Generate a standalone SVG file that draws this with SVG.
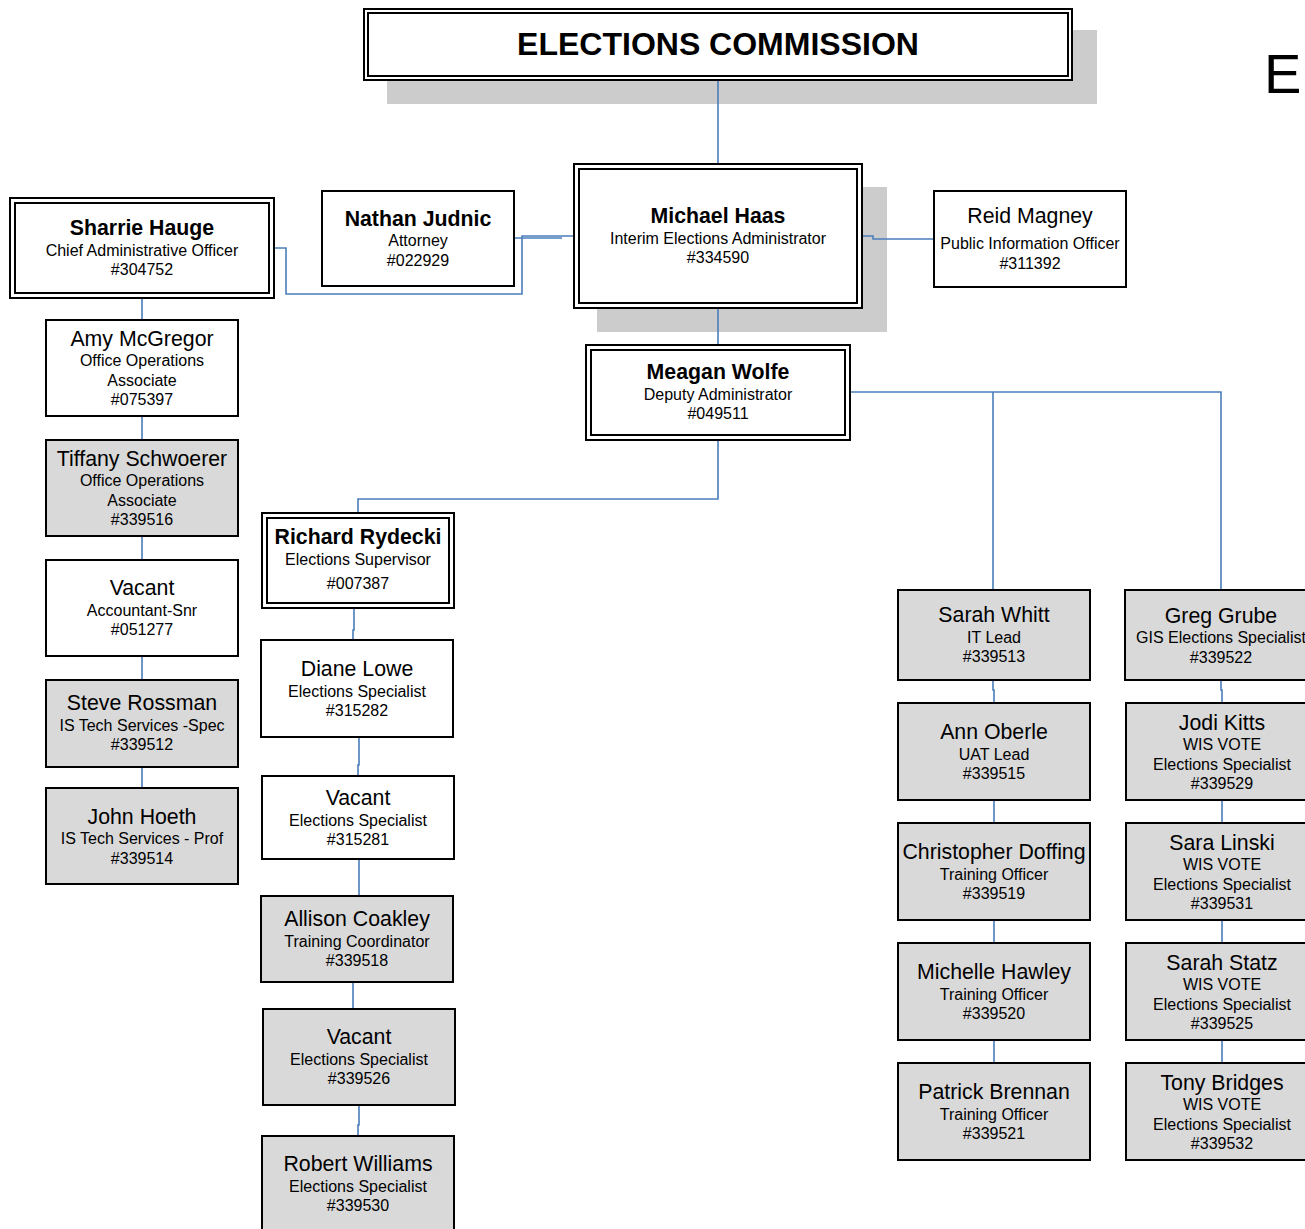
<svg xmlns="http://www.w3.org/2000/svg" width="1305" height="1229" viewBox="0 0 1305 1229">
<style>
text{font-family:"Liberation Sans",Arial,sans-serif;text-anchor:middle;fill:#000}
.n{font-size:21.3px}
.b{font-size:21.3px;font-weight:bold}
.s{font-size:16px}
.box{fill:#fff;stroke:#000;stroke-width:2}
.g{fill:#d9d9d9;stroke:#000;stroke-width:2}
.sh{fill:#cccccc}
.c{fill:none;stroke:#4a7ebb;stroke-width:1.6}
</style>
<rect width="1305" height="1229" fill="#fff"/>
<rect class="sh" x="387" y="30" width="710" height="74"/>
<rect class="sh" x="597" y="187" width="290" height="145"/>
<g id="connectors">
<path class="c" d="M718 80V164"/>
<path class="c" d="M862 236H873V239H933"/>
<path class="c" d="M573 236H522V294H286V248H273"/>
<path class="c" d="M514 238H562"/>
<path class="c" d="M142 298V320M142 416V440M142 536V560M142 656V680M142 767V788"/>
<path class="c" d="M718 308V344"/>
<path class="c" d="M850 392H1221V590M993 392V590"/>
<path class="c" d="M718 440V499H358V513"/>
<path class="c" d="M354 608V630H353V640M359 737V765H358V776M359 859V896M353 982V1009M359 1105V1125H358V1136"/>
<path class="c" d="M993 680V690H994V703M994 800V823M994 920V943M994 1040V1063"/>
<path class="c" d="M1221 680V690H1222V703M1222 800V823M1222 920V943M1222 1040V1063"/>
</g>
<g id="commission">
<rect class="box" x="364" y="9" width="708" height="71"/>
<rect class="box" x="368" y="13" width="700" height="63"/>
<text x="718" y="55" style="font-size:32px;font-weight:bold">ELECTIONS COMMISSION</text>
</g>
<g id="haas">
<rect class="box" x="574" y="164" width="288" height="144"/>
<rect class="box" x="579" y="169" width="278" height="134"/>
<text class="b" x="718" y="223">Michael Haas</text>
<text class="s" x="718" y="244">Interim Elections Administrator</text>
<text class="s" x="718" y="263">#334590</text>
</g>
<g id="magney">
<rect class="box" x="934" y="191" width="192" height="96"/>
<text class="n" x="1030" y="223">Reid Magney</text>
<text class="s" x="1030" y="249">Public Information Officer</text>
<text class="s" x="1030" y="269">#311392</text>
</g>
<g id="judnic">
<rect class="box" x="322" y="191" width="192" height="95"/>
<text class="b" x="418" y="226">Nathan Judnic</text>
<text class="s" x="418" y="246">Attorney</text>
<text class="s" x="418" y="266">#022929</text>
</g>
<g id="hauge">
<rect class="box" x="10" y="198" width="264" height="100"/>
<rect class="box" x="15" y="203" width="254" height="90"/>
<text class="b" x="142" y="235">Sharrie Hauge</text>
<text class="s" x="142" y="256">Chief Administrative Officer</text>
<text class="s" x="142" y="275">#304752</text>
</g>
<g id="mcgregor">
<rect class="box" x="46" y="320" width="192" height="96"/>
<text class="n" x="142" y="346">Amy McGregor</text>
<text class="s" x="142" y="366">Office Operations</text>
<text class="s" x="142" y="386">Associate</text>
<text class="s" x="142" y="405">#075397</text>
</g>
<g id="schwoerer">
<rect class="g" x="46" y="440" width="192" height="96"/>
<text class="n" x="142" y="466">Tiffany Schwoerer</text>
<text class="s" x="142" y="486">Office Operations</text>
<text class="s" x="142" y="506">Associate</text>
<text class="s" x="142" y="525">#339516</text>
</g>
<g id="vacant-acct">
<rect class="box" x="46" y="560" width="192" height="96"/>
<text class="n" x="142" y="595">Vacant</text>
<text class="s" x="142" y="616">Accountant-Snr</text>
<text class="s" x="142" y="635">#051277</text>
</g>
<g id="rossman">
<rect class="g" x="46" y="680" width="192" height="87"/>
<text class="n" x="142" y="710">Steve Rossman</text>
<text class="s" x="142" y="731">IS Tech Services -Spec</text>
<text class="s" x="142" y="750">#339512</text>
</g>
<g id="hoeth">
<rect class="g" x="46" y="788" width="192" height="96"/>
<text class="n" x="142" y="824">John Hoeth</text>
<text class="s" x="142" y="844">IS Tech Services - Prof</text>
<text class="s" x="142" y="864">#339514</text>
</g>
<g id="wolfe">
<rect class="box" x="586" y="345" width="264" height="95"/>
<rect class="box" x="591" y="350" width="254" height="85"/>
<text class="b" x="718" y="379">Meagan Wolfe</text>
<text class="s" x="718" y="400">Deputy Administrator</text>
<text class="s" x="718" y="419">#049511</text>
</g>
<g id="rydecki">
<rect class="box" x="262" y="513" width="192" height="95"/>
<rect class="box" x="267" y="518" width="182" height="85"/>
<text class="b" x="358" y="544">Richard Rydecki</text>
<text class="s" x="358" y="565">Elections Supervisor</text>
<text class="s" x="358" y="589">#007387</text>
</g>
<g id="lowe">
<rect class="box" x="261" y="640" width="192" height="97"/>
<text class="n" x="357" y="676">Diane Lowe</text>
<text class="s" x="357" y="697">Elections Specialist</text>
<text class="s" x="357" y="716">#315282</text>
</g>
<g id="vacant-315281">
<rect class="box" x="262" y="776" width="192" height="83"/>
<text class="n" x="358" y="805">Vacant</text>
<text class="s" x="358" y="826">Elections Specialist</text>
<text class="s" x="358" y="845">#315281</text>
</g>
<g id="coakley">
<rect class="g" x="261" y="896" width="192" height="86"/>
<text class="n" x="357" y="926">Allison Coakley</text>
<text class="s" x="357" y="947">Training Coordinator</text>
<text class="s" x="357" y="966">#339518</text>
</g>
<g id="vacant-339526">
<rect class="g" x="263" y="1009" width="192" height="96"/>
<text class="n" x="359" y="1044">Vacant</text>
<text class="s" x="359" y="1065">Elections Specialist</text>
<text class="s" x="359" y="1084">#339526</text>
</g>
<g id="williams">
<rect class="g" x="262" y="1136" width="192" height="100"/>
<text class="n" x="358" y="1171">Robert Williams</text>
<text class="s" x="358" y="1192">Elections Specialist</text>
<text class="s" x="358" y="1211">#339530</text>
</g>
<g id="whitt">
<rect class="g" x="898" y="590" width="192" height="90"/>
<text class="n" x="994" y="622">Sarah Whitt</text>
<text class="s" x="994" y="643">IT Lead</text>
<text class="s" x="994" y="662">#339513</text>
</g>
<g id="oberle">
<rect class="g" x="898" y="703" width="192" height="97"/>
<text class="n" x="994" y="739">Ann Oberle</text>
<text class="s" x="994" y="760">UAT Lead</text>
<text class="s" x="994" y="779">#339515</text>
</g>
<g id="doffing">
<rect class="g" x="898" y="823" width="192" height="97"/>
<text class="n" x="994" y="859">Christopher Doffing</text>
<text class="s" x="994" y="880">Training Officer</text>
<text class="s" x="994" y="899">#339519</text>
</g>
<g id="hawley">
<rect class="g" x="898" y="943" width="192" height="97"/>
<text class="n" x="994" y="979">Michelle Hawley</text>
<text class="s" x="994" y="1000">Training Officer</text>
<text class="s" x="994" y="1019">#339520</text>
</g>
<g id="brennan">
<rect class="g" x="898" y="1063" width="192" height="97"/>
<text class="n" x="994" y="1099">Patrick Brennan</text>
<text class="s" x="994" y="1120">Training Officer</text>
<text class="s" x="994" y="1139">#339521</text>
</g>
<g id="grube">
<rect class="g" x="1125" y="590" width="192" height="90"/>
<text class="n" x="1221" y="623">Greg Grube</text>
<text class="s" x="1221" y="643">GIS Elections Specialist</text>
<text class="s" x="1221" y="663">#339522</text>
</g>
<g id="kitts">
<rect class="g" x="1126" y="703" width="192" height="97"/>
<text class="n" x="1222" y="730">Jodi Kitts</text>
<text class="s" x="1222" y="750">WIS VOTE</text>
<text class="s" x="1222" y="770">Elections Specialist</text>
<text class="s" x="1222" y="789">#339529</text>
</g>
<g id="linski">
<rect class="g" x="1126" y="823" width="192" height="97"/>
<text class="n" x="1222" y="850">Sara Linski</text>
<text class="s" x="1222" y="870">WIS VOTE</text>
<text class="s" x="1222" y="890">Elections Specialist</text>
<text class="s" x="1222" y="909">#339531</text>
</g>
<g id="statz">
<rect class="g" x="1126" y="943" width="192" height="97"/>
<text class="n" x="1222" y="970">Sarah Statz</text>
<text class="s" x="1222" y="990">WIS VOTE</text>
<text class="s" x="1222" y="1010">Elections Specialist</text>
<text class="s" x="1222" y="1029">#339525</text>
</g>
<g id="bridges">
<rect class="g" x="1126" y="1063" width="192" height="97"/>
<text class="n" x="1222" y="1090">Tony Bridges</text>
<text class="s" x="1222" y="1110">WIS VOTE</text>
<text class="s" x="1222" y="1130">Elections Specialist</text>
<text class="s" x="1222" y="1149">#339532</text>
</g>
<text x="1264" y="93" style="font-size:56px;text-anchor:start">E</text>
</svg>
